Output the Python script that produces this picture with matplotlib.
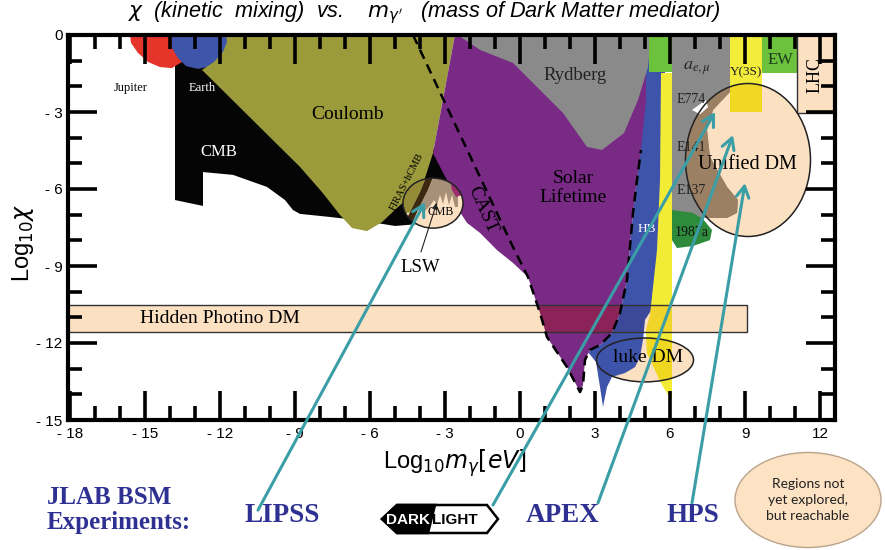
import matplotlib.pyplot as plt
from matplotlib.patches import Ellipse, Polygon, Rectangle
from matplotlib.ticker import MultipleLocator, FuncFormatter

plt.rcParams['font.family'] = ['Liberation Sans', 'DejaVu Sans']
SERIF = ['Liberation Serif', 'DejaVu Serif']

# region outlines, (log10 m_gamma / eV, log10 chi)
jupiter = [(-15.6, 0.0), (-13.6, 0.0), (-13.44, -0.58), (-13.52, -1.05), (-13.92, -1.29),
           (-14.4, -1.25), (-14.88, -1.05), (-15.28, -0.70), (-15.56, -0.31)]
earth = [(-13.92, 0.0), (-11.68, 0.0), (-11.68, -0.39), (-11.92, -0.86), (-12.32, -1.21),
         (-12.88, -1.32), (-13.36, -1.21), (-13.68, -0.90), (-13.92, -0.51)]
cmb = [(-13.8, -0.9), (-11.2, -0.9), (-3.48, -4.40), (-2.72, -5.84), (-3.2, -6.62),
       (-4.0, -7.36), (-5.0, -7.44), (-6.2, -7.25), (-7.6, -7.09), (-8.8, -6.97),
       (-9.08, -6.82), (-9.4, -6.43), (-10.12, -5.92), (-11.48, -5.45), (-12.68, -5.34),
       (-12.68, -6.66), (-13.8, -6.43)]
coulomb = [(-11.76, 0.0), (-2.6, 0.0), (-3.48, -4.60), (-3.8, -5.57), (-4.32, -6.23),
           (-4.88, -6.70), (-5.52, -7.29), (-6.12, -7.64), (-6.72, -7.52), (-7.2, -7.01),
           (-7.92, -6.12), (-8.8, -5.14), (-12.72, -1.36), (-12.24, -1.05), (-11.88, -0.66),
           (-11.72, -0.27)]
solar = [(-2.6, 0.0), (5.04, 0.0), (5.04, -2.53), (4.84, -4.48), (4.68, -5.65), (4.52, -6.93),
         (4.28, -9.55), (4.0, -10.83), (3.68, -11.61), (3.2, -12.08), (2.8, -12.27), (2.6, -12.66),
         (2.52, -13.64), (2.4, -13.91), (1.88, -12.94), (1.08, -11.77), (0.8, -10.83), (0.32, -9.43),
         (-0.28, -8.88), (-0.92, -8.38), (-1.6, -7.71), (-2.12, -7.32), (-2.4, -6.90), (-2.72, -6.04),
         (-3.48, -4.60)]
cast = [(-4.28, 0.0), (-0.28, -8.26), (0.32, -9.43), (0.8, -10.83), (1.08, -11.77), (1.88, -12.94),
        (2.4, -13.91), (2.52, -13.64), (2.6, -12.66), (2.8, -12.27), (3.2, -12.08), (3.68, -11.61),
        (4.0, -10.83), (4.28, -9.55), (4.52, -6.93), (4.68, -5.65), (4.84, -4.48)]
rydberg = [(-2.48, 0.0), (5.24, 0.0), (5.12, -1.25), (4.72, -2.53), (4.16, -3.82), (3.28, -4.48),
           (2.68, -4.36), (1.72, -3.04), (-0.28, -1.09), (-1.6, -0.58), (-2.2, -0.19)]
horizontal_branch = [(5.0, -0.39), (5.8, -0.39), (5.8, -5.65), (5.52, -10.32), (5.0, -11.10),
                     (4.92, -11.88), (4.8, -12.55), (4.6, -12.94), (4.2, -13.17), (3.68, -13.32),
                     (3.48, -13.71), (3.32, -14.49), (3.2, -13.71), (3.04, -12.74), (2.72, -12.35),
                     (3.2, -12.08), (3.68, -11.61), (4.0, -10.83), (4.28, -9.55), (4.52, -6.93),
                     (4.68, -5.65), (4.8, -4.48), (4.92, -2.53)]
beam_dump = [(5.64, -1.48), (6.08, -1.48), (6.08, -14.22), (6.0, -14.14), (5.68, -13.64),
             (5.4, -13.05), (5.08, -12.39), (5.04, -11.49), (5.2, -10.91), (5.48, -8.38),
             (5.6, -5.65)]
anomalous_moment = [(6.08, 0.0), (8.4, 0.0), (8.4, -2.22), (7.72, -2.92), (7.48, -3.70),
                    (7.6, -4.75), (8.28, -5.92), (8.72, -6.43), (8.68, -6.93), (8.28, -7.13),
                    (7.2, -7.13), (6.6, -6.97), (6.08, -6.90)]
sn1987a = [(6.08, -6.82), (6.92, -6.93), (7.32, -7.17), (7.68, -7.60), (7.6, -7.99),
           (6.92, -8.22), (6.28, -8.30), (6.08, -7.99)]
e774_gap = [(6.88, -2.92), (7.44, -2.53), (7.52, -2.81), (7.2, -3.09)]

# pieces seen through the LSW / hCMB oval
lsw_coulomb = [(-4.8, -5.45), (-3.72, -5.45), (-4.0, -6.12), (-4.4, -6.90), (-4.8, -7.01)]
lsw_firas = [(-3.72, -5.45), (-3.44, -5.45), (-3.68, -6.04), (-4.08, -6.82), (-4.4, -7.52),
             (-4.72, -7.52), (-4.4, -6.90), (-4.0, -6.12)]
lsw_bounds = [(-3.44, -5.49), (-2.48, -5.49), (-2.48, -6.70), (-2.6, -6.70), (-2.72, -6.23),
              (-2.84, -6.62), (-2.96, -6.12), (-3.08, -6.58), (-3.2, -6.23), (-3.32, -6.62),
              (-3.44, -6.43), (-3.6, -6.66), (-3.84, -6.90), (-4.08, -6.82), (-3.68, -6.04)]
lsw_solar = [(-2.8, -5.65), (-2.4, -5.65), (-2.32, -6.23), (-2.56, -6.31), (-2.72, -6.04)]
lsw_pointer = [(-3.96, -8.45), (-3.32, -6.51)]

# boxes: (m_lo, m_hi, chi_lo, chi_hi)
upsilon_box = (8.4, 9.68, -3.0, 0.0)
ew_box = (9.68, 11.08, -1.48, 0.0)
lhc_box = (11.08, 13.0, -3.04, 0.0)
green_box = (5.15, 6.08, -1.45, 0.0)
photino_band = (-18.3, 9.08, -11.57, -10.52)

# favoured regions: (centre m, centre chi, width, height)
unified_dm = (9.12, -4.87, 5.0, 5.96)
luke_dm = (5.0, -12.66, 3.88, 1.71)
lsw_zone = (-3.48, -6.55, 2.4, 1.95)

experiments = ['LIPSS', 'DarkLight', 'APEX', 'HPS']
arrow_tails = [(-10.48, -18.51), (-1.08, -18.31), (3.12, -18.23), (6.88, -18.23)]
arrow_heads = [(-3.8, -6.51), (7.8, -3.0), (8.52, -3.9), (9.0, -5.77)]

PEACH = '#fbe0c2'
PURPLE = '#782a85'
HB_BLUE = '#3e53aa'
YELLOW = '#f3ec36'
TEAL = '#3b9ea6'
NAVY = '#2e3192'

fig = plt.figure(figsize=(8.85, 5.5), dpi=100)
ax = fig.add_axes([68 / 885, 130 / 550, 767 / 885, 385 / 550])
ax.set_xlim(-18.08, 12.6)
ax.set_ylim(-15, 0)
ax.set_axisbelow(False)


def fill(pts, color, clip=None):
    p = ax.add_patch(Polygon(pts, closed=True, fc=color, ec='none', lw=0))
    if clip is not None:
        p.set_clip_path(clip)
    return p


def box(b, color, clip=None, **kw):
    lo, hi, c0, c1 = b
    p = ax.add_patch(Rectangle((lo, c0), hi - lo, c1 - c0, fc=color, **kw))
    if clip is not None:
        p.set_clip_path(clip)
    return p


def oval(e, **kw):
    x, y, w, h = e
    return ax.add_patch(Ellipse((x, y), w, h, **kw))


# peach fills go first, everything else is layered over them
udm = oval(unified_dm, fc=PEACH, ec='none')
luke = oval(luke_dm, fc=PEACH, ec='none')

fill(cmb, '#050505')
fill(jupiter, '#e5352b')
fill(earth, '#3f55a9')
fill(coulomb, '#9b9b3c')
fill(horizontal_branch, HB_BLUE)
fill(solar, PURPLE)
fill(rydberg, '#8a8a8a')
fill(beam_dump, YELLOW)
fill(beam_dump, '#f0d820', clip=luke)
box(green_box, '#6cc23c', ec='none')
fill(anomalous_moment, '#8a8a8a')
fill(anomalous_moment, '#9c8063', clip=udm)
fill(sn1987a, '#2e8b3c')
box(upsilon_box, '#f3ec3a', ec='none')
box(upsilon_box, '#f1d822', ec='none', clip=udm)
fill(e774_gap, 'white')
box(ew_box, '#6cc23c', ec='none')
box(lhc_box, PEACH, ec='#333333', lw=1.0)

# hidden photino band, darker where it crosses the bounds
band = box(photino_band, PEACH, ec='none')
fill(solar, '#8c2358', clip=band)
fill(horizontal_branch, '#3c4898', clip=band)
fill(beam_dump, '#f0d42a', clip=band)
box(photino_band, 'none', ec='#333333', lw=1.0)

lsw = oval(lsw_zone, fc=PEACH, ec='none')
fill(lsw_coulomb, '#958a35', clip=lsw)
fill(lsw_firas, '#3c2810', clip=lsw)
fill(lsw_bounds, '#a69077', clip=lsw)
fill(lsw_solar, '#9c2a6e', clip=lsw)
oval(lsw_zone, fc='none', ec='#222222', lw=1.1)

ax.plot(*zip(*cast), color='black', lw=1.8, ls=(0, (4, 2.5)))

oval(unified_dm, fc='none', ec='#222222', lw=1.1)
oval(luke_dm, fc='none', ec='#222222', lw=1.1)

# region labels
ax.text(-15.56, -2.06, 'Jupiter', family=SERIF, fontsize=9, ha='center', va='center')
ax.text(-12.72, -2.06, 'Earth', family=SERIF, fontsize=9, color='white', ha='center', va='center')
ax.text(-12.04, -4.56, 'CMB', family=SERIF, fontsize=12, color='white', ha='center', va='center')
ax.text(-6.88, -3.08, 'Coulomb', family=SERIF, fontsize=14, ha='center', va='center')
ax.text(2.2, -1.56, 'Rydberg', family=SERIF, fontsize=13.5, color='#222222', ha='center', va='center')
ax.text(2.12, -5.96, 'Solar\nLifetime', family=SERIF, fontsize=14, ha='center', va='center',
        linespacing=1.1)
ax.text(7.08, -1.29, r'$a_{e,\mu}$', fontsize=13, math_fontfamily='stix', color='#222222',
        ha='center', va='center')
for name, chi in zip(['E774', 'E141', 'E137'], [-2.53, -4.40, -6.04]):
    ax.text(6.25, chi, name, family=SERIF, fontsize=10, color='#222222', ha='left', va='center')
ax.text(6.2, -7.68, '1987a', family=SERIF, fontsize=10, color='#111111', ha='left', va='center')
ax.text(5.08, -7.56, 'HB', family=SERIF, fontsize=9.5, color='white', ha='center', va='center')
ax.text(9.04, -1.44, 'Υ(3S)', family=SERIF, fontsize=9.5, color='#222222', ha='center', va='center')
ax.text(10.4, -0.97, 'EW', family=SERIF, fontsize=12, color='#1d3d1d', ha='center', va='center')
ax.text(11.8, -1.56, 'LHC', family=SERIF, fontsize=13, rotation=90, ha='center', va='center')
ax.text(9.08, -5.06, 'Unified DM', family=SERIF, fontsize=14.5, ha='center', va='center')
ax.text(5.12, -12.55, 'luke DM', family=SERIF, fontsize=14, ha='center', va='center')
ax.text(-12.0, -11.03, 'Hidden Photino DM', family=SERIF, fontsize=14, ha='center', va='center')
ax.text(-4.0, -9.04, 'LSW', family=SERIF, fontsize=13.5, ha='center', va='center')
ax.text(-1.48, -6.82, 'CAST', family=SERIF, fontsize=14, rotation=-66, ha='center', va='center')
ax.text(-4.52, -5.73, 'FIRAS+hCMB', family=SERIF, fontsize=7.5, rotation=63, ha='center', va='center')
ax.text(-3.16, -6.90, 'CMB', family=SERIF, fontsize=8.5, ha='center', va='center')
ax.annotate('', xy=lsw_pointer[1], xytext=lsw_pointer[0],
            arrowprops=dict(arrowstyle='-|>,head_length=0.4,head_width=0.15', color='#222222',
                            lw=0.8, shrinkA=0, shrinkB=0))

# axes furniture
ax.xaxis.set_major_locator(MultipleLocator(3))
ax.xaxis.set_minor_locator(MultipleLocator(1))
ax.yaxis.set_major_locator(MultipleLocator(3))
ax.yaxis.set_minor_locator(MultipleLocator(1))
fmt = FuncFormatter(lambda v, _: f'- {abs(round(v))}' if v < -0.5 else f'{abs(round(v))}')
ax.xaxis.set_major_formatter(fmt)
ax.yaxis.set_major_formatter(fmt)
ax.tick_params(which='both', direction='in', top=True, right=True, width=2.6, labelsize=11)
ax.tick_params(which='major', length=21)
ax.tick_params(which='minor', length=10)
ax.tick_params(axis='x', pad=5)
ax.tick_params(axis='y', pad=4)
for s in ax.spines.values():
    s.set_linewidth(3)

ax.set_xlabel(r'Log$_{10}m_{\gamma}[eV]$', fontsize=17)
ax.xaxis.set_label_coords(0.505, -0.07)
ax.set_ylabel(r'Log$_{10}\chi$', fontsize=17)
ax.yaxis.set_label_coords(-0.042, 0.46)

fig.text(128 / 885, 1 - 13 / 550,
         r"$\chi$  (kinetic  mixing)  vs.    $m_{\gamma'}$   (mass of Dark Matter mediator)",
         fontsize=15.6, style='italic', ha='left', va='center')

# experiments and what they reach
for tail, head in zip(arrow_tails, arrow_heads):
    ax.annotate('', xy=head, xytext=tail, annotation_clip=False, zorder=6,
                arrowprops=dict(arrowstyle='->,head_length=0.8,head_width=0.45', color=TEAL,
                                lw=2.2, shrinkA=0, shrinkB=0))

fig.text(47 / 885, 1 - 510 / 550, 'JLAB BSM\nExperiments:', family=SERIF, fontsize=18,
         weight='bold', color=NAVY, ha='left', va='center', linespacing=1.1)
for name, px in zip(experiments, [282, 437, 563, 693]):
    if name == 'DarkLight':
        continue
    fig.text(px / 885, 1 - 516 / 550, name, family=SERIF, fontsize=19.5, weight='bold',
             color=NAVY, ha='center', va='center')

# DarkLight badge, drawn in pixel units
logo = fig.add_axes([380 / 885, 14 / 550, 120 / 885, 34 / 550])
logo.set_xlim(0, 120)
logo.set_ylim(0, 34)
logo.axis('off')
logo.add_patch(Polygon([(2, 17), (17, 31), (107, 31), (118, 17), (107, 3), (17, 3)],
                       closed=True, fc='white', ec='black', lw=1.8))
logo.add_patch(Polygon([(2, 17), (17, 31), (55, 31), (48, 3), (17, 3)],
                       closed=True, fc='black', ec='black', lw=1.8))
logo_font = dict(family='Liberation Sans', weight='bold', fontsize=11, va='center')
logo.text(50, 16.5, 'DARK', color='white', ha='right', **logo_font)
logo.text(52, 16.5, 'LIGHT', color='black', ha='left', **logo_font)

fig.add_artist(Ellipse((808 / 885, 50 / 550), 146 / 885, 95 / 550, transform=fig.transFigure,
                       fc='#fde2c3', ec='#b8a48c', lw=1.0))
fig.text(808 / 885, 50 / 550, 'Regions not\nyet explored,\nbut reachable', fontsize=10,
         family=['Lato', 'DejaVu Sans'], color='#222222', ha='center', va='center',
         linespacing=1.35)

fig.savefig('out.png', dpi=100)
